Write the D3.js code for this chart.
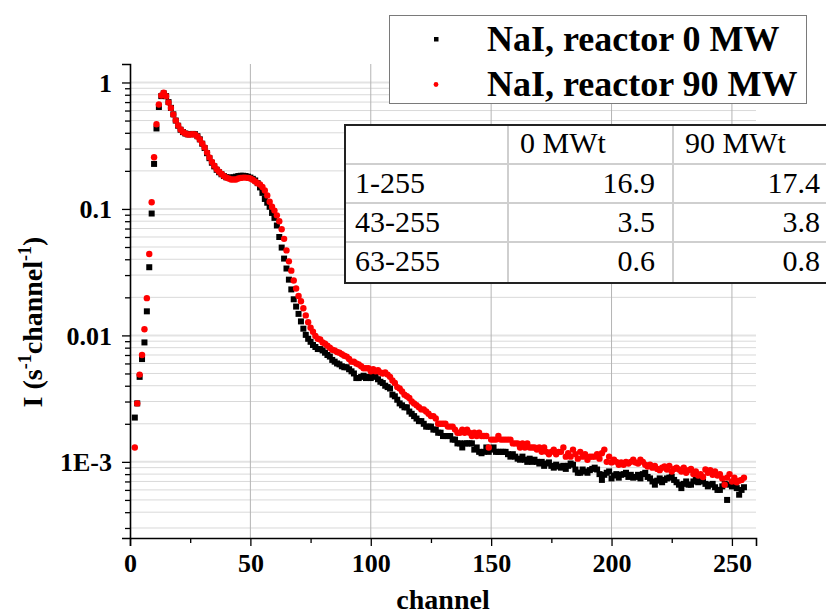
<!DOCTYPE html>
<html><head><meta charset="utf-8">
<script src="https://cdn.jsdelivr.net/npm/d3@7"></script>
<style>body{margin:0;background:#fff} svg{display:block}</style>
</head><body><svg id="c" width="826" height="614"></svg>
<script>
const firstChannel = 2;
// 0 MW series (channels 2..255)
const off = [
0.00224,0.0029,0.0047,0.0065,0.0088,0.0155,0.0346,0.092,0.227,0.433,
0.64,0.78,0.82,0.78,0.70,0.63,0.56,0.50,0.455,0.423,
0.405,0.395,0.389,0.39,0.392,0.39,0.376,0.355,0.328,0.303,
0.276,0.252,0.232,0.217,0.204,0.195,0.188,0.182,0.178,0.177,
0.177,0.178,0.180,0.182,0.183,0.183,0.182,0.180,0.177,0.173,
0.168,0.160,0.148,0.134,0.120,0.112,0.104,0.093,0.085,0.074,
0.060,0.0495,0.0405,0.0338,0.0276,0.0231,0.0193,0.0169,0.0148,0.0129,
0.0113,0.0101,0.0094,0.0089,0.0084,0.0081,0.0078,0.0078,0.0076,0.0073,
0.0070,0.0068,0.0064,0.0062,0.0060,0.0059,0.0057,0.0056,0.0056,0.0054,
0.0052,0.0050,0.0046,0.0046,0.0047,0.0048,0.0046,0.0047,0.0046,0.0048,
0.0047,0.0045,0.0043,0.0042,0.0040,0.0039,0.0038,0.0034,0.0033,0.0031,
0.0029,0.0028,0.0027,0.0027,0.0025,0.0024,0.0023,0.0022,0.0021,0.0021,
0.0020,0.0019,0.0019,0.0019,0.0018,0.0018,0.0017,0.0017,0.0016,0.0016,
0.0016,0.0016,0.0015,0.0015,0.0014,0.0014,0.0013,0.0014,0.0014,0.0014,
0.0014,0.00125,0.0013,0.0012,0.00117,0.0012,0.0013,0.0012,0.00125,0.0013,
0.0012,0.0012,0.0012,0.0012,0.0012,0.00115,0.0011,0.00115,0.0011,0.00106,
0.00104,0.0011,0.00104,0.001,0.00106,0.001,0.00104,0.001,0.00097,0.001,
0.00093,0.00097,0.00099,0.00093,0.0009,0.00095,0.00092,0.0009,0.00093,0.00088,
0.00093,0.00097,0.00095,0.00087,0.00082,0.00082,0.00087,0.00084,0.00082,0.00086,
0.00088,0.0009,0.00087,0.0008,0.00072,0.00079,0.00082,0.00084,0.00074,0.00078,
0.0008,0.00075,0.00079,0.0008,0.00082,0.00076,0.00079,0.00075,0.00076,0.00079,
0.00074,0.0008,0.00082,0.00076,0.00074,0.0007,0.00066,0.00071,0.00074,0.00069,
0.00072,0.00074,0.00075,0.00076,0.00072,0.00069,0.00066,0.00062,0.00067,0.0007,
0.00066,0.00066,0.0007,0.00072,0.00069,0.00071,0.0007,0.00067,0.00064,0.00066,
0.00067,0.00063,0.0006,0.0006,0.00064,0.00067,0.0005,0.00066,0.00064,0.00066,
0.00062,0.00055,0.0006,0.00063];
// 90 MW series (channels 2..255)
const on = [
0.0013,0.0029,0.0049,0.0070,0.0112,0.0197,0.044,0.113,0.256,0.468,
0.67,0.79,0.83,0.78,0.694,0.628,0.558,0.50,0.457,0.425,
0.406,0.395,0.388,0.388,0.39,0.388,0.374,0.354,0.329,0.306,
0.279,0.255,0.235,0.22,0.206,0.197,0.189,0.182,0.177,0.174,
0.171,0.171,0.171,0.174,0.176,0.177,0.177,0.176,0.174,0.170,
0.165,0.160,0.156,0.149,0.140,0.128,0.114,0.104,0.097,0.089,
0.080,0.069,0.058,0.047,0.0385,0.0325,0.0272,0.0235,0.0205,0.0186,
0.0164,0.0144,0.0127,0.0115,0.0107,0.0099,0.0094,0.0093,0.0088,0.0086,
0.0083,0.0080,0.0077,0.0076,0.0074,0.0073,0.0071,0.0069,0.0068,0.0065,
0.0062,0.0062,0.0060,0.0059,0.0057,0.0055,0.0055,0.0055,0.0052,0.0054,
0.0052,0.0053,0.0051,0.0050,0.0051,0.0049,0.0047,0.0044,0.0042,0.0039,
0.0038,0.0036,0.0034,0.0033,0.0032,0.0030,0.0029,0.0028,0.0027,0.0026,
0.0026,0.0025,0.0024,0.0023,0.0023,0.0022,0.0020,0.0020,0.0020,0.0020,
0.0019,0.0019,0.0019,0.0018,0.0017,0.0017,0.0018,0.0017,0.0018,0.0017,
0.0016,0.0017,0.0016,0.0017,0.0016,0.0016,0.0016,0.0013,0.0015,0.0015,
0.0015,0.0016,0.0015,0.0015,0.0015,0.0015,0.0015,0.0014,0.0014,0.0014,
0.0013,0.0014,0.0013,0.0014,0.0013,0.0013,0.0013,0.00125,0.0013,0.0012,
0.0013,0.0012,0.00115,0.0012,0.00125,0.00115,0.0012,0.0012,0.0013,0.0011,
0.00117,0.0011,0.00125,0.00115,0.00106,0.0012,0.0011,0.00115,0.00104,0.0011,
0.0011,0.0011,0.00115,0.00106,0.00117,0.00125,0.001,0.0011,0.00099,0.00104,
0.001,0.00095,0.00099,0.00095,0.001,0.00097,0.001,0.00104,0.00099,0.00097,
0.00104,0.001,0.00095,0.00092,0.00095,0.0009,0.00093,0.00088,0.00086,0.0009,
0.00092,0.00087,0.00093,0.00084,0.00088,0.0009,0.00087,0.00084,0.0009,0.00082,
0.00086,0.00088,0.0008,0.00084,0.00078,0.0008,0.00076,0.00087,0.00082,0.00086,
0.00079,0.00084,0.00078,0.0008,0.00074,0.00066,0.00075,0.0008,0.0007,0.00075,
0.00069,0.00071,0.00072,0.00075];
const xTicks = [0,50,100,150,200,250];
const xMinorTicks = [25,75,125,175,225];
const yTicks = [1,0.1,0.01,0.001];
const yTickLabels = ["1","0.1","0.01","1E-3"];
const legendLabels = ["NaI, reactor 0 MW","NaI, reactor 90 MW"];
const tableHeader = ["","0 MWt","90 MWt"];
const tableRows = [["1-255","16.9","17.4"],["43-255","3.5","3.8"],["63-255","0.6","0.8"]];

const svg = d3.select("#c");
const serif = "'Liberation Serif','Times New Roman',serif";
const x = d3.scaleLinear().domain([0,260]).range([130,756]);
const y = d3.scaleLog().domain([2.5e-4,1.4]).range([538,64]);
const [y0,y1] = y.domain();
const yMinor = [];
for (let k=-4;k<=0;k++) for (let m=2;m<=9;m++){const v=m*Math.pow(10,k); if(v>=y0&&v<=y1) yMinor.push(v);}

// grid
const g = svg.append("g");
g.selectAll(".hm").data(yMinor).join("line")
 .attr("x1",x(0)).attr("x2",x(260)).attr("y1",d=>y(d)).attr("y2",d=>y(d))
 .attr("stroke","#d9d9d9").attr("stroke-width",1);
g.selectAll(".hM").data(yTicks).join("line")
 .attr("x1",x(0)).attr("x2",x(260)).attr("y1",d=>y(d)).attr("y2",d=>y(d))
 .attr("stroke","#e3e3e3").attr("stroke-width",2);
g.selectAll(".v").data(xTicks.slice(1)).join("line")
 .attr("x1",d=>x(d)).attr("x2",d=>x(d)).attr("y1",y(y0)).attr("y2",y(y1))
 .attr("stroke","#b4b4b4").attr("stroke-width",1);

// data
const ch = (i)=>firstChannel+i;
svg.append("g").selectAll("rect").data(off).join("rect")
 .attr("x",(d,i)=>x(ch(i))-3).attr("y",d=>y(d)-3)
 .attr("width",6).attr("height",6).attr("fill","#000");
svg.append("g").selectAll("circle").data(on).join("circle")
 .attr("cx",(d,i)=>x(ch(i))).attr("cy",d=>y(d)).attr("r",3.2).attr("fill","#ff0000");

// axes
const ax = svg.append("g").attr("transform",`translate(0,${y(y0)})`)
 .call(d3.axisBottom(x).tickValues(xTicks).tickSize(8).tickFormat(d3.format("d")));
svg.append("g").attr("transform",`translate(0,${y(y0)})`)
 .call(d3.axisBottom(x).tickValues(xMinorTicks).tickSize(5).tickFormat(""))
 .call(s=>s.select(".domain").remove());
const ay = svg.append("g").attr("transform",`translate(${x(0)},0)`)
 .call(d3.axisLeft(y).tickValues(yTicks).tickSize(8).tickFormat((d,i)=>yTickLabels[i]));
svg.append("g").attr("transform",`translate(${x(0)},0)`)
 .call(d3.axisLeft(y).tickValues(yMinor).tickSize(5).tickFormat(""))
 .call(s=>s.select(".domain").remove());
svg.selectAll(".domain").attr("stroke","#000").attr("stroke-width",1.6);
svg.selectAll(".tick line").attr("stroke","#000").attr("stroke-width",1.3);
ax.selectAll("text").attr("font-family",serif).attr("font-weight","bold").attr("font-size",26)
 .attr("fill","#000").attr("y",null).attr("dy",null).attr("transform","translate(0,34)");
ay.selectAll("text").attr("font-family",serif).attr("font-weight","bold").attr("font-size",26)
 .attr("fill","#000").attr("x",-18).attr("dy",null).attr("y",9);

// axis titles
svg.append("text").attr("x",443).attr("y",609).attr("text-anchor","middle")
 .attr("font-family",serif).attr("font-weight","bold").attr("font-size",28).text("channel");
const yl = svg.append("text").attr("transform","translate(42,322) rotate(-90)").attr("text-anchor","middle")
 .attr("font-family",serif).attr("font-weight","bold").attr("font-size",28);
yl.append("tspan").text("I (s");
yl.append("tspan").attr("font-size",18).attr("dy",-11).text("-1");
yl.append("tspan").attr("dy",11).text("channel");
yl.append("tspan").attr("font-size",18).attr("dy",-11).text("-1");
yl.append("tspan").attr("dy",11).text(")");

// legend
svg.append("rect").attr("x",389.5).attr("y",15.5).attr("width",417).attr("height",88)
 .attr("fill","#fff").attr("stroke","#7a7a7a").attr("stroke-width",1);
svg.append("rect").attr("x",434).attr("y",37).attr("width",4.5).attr("height",4.5).attr("fill","#000");
svg.append("circle").attr("cx",436).attr("cy",84.5).attr("r",2.4).attr("fill","#ff0000");
svg.selectAll(".lg").data(legendLabels).join("text")
 .attr("x",487).attr("y",(d,i)=>51+i*45).attr("font-family",serif).attr("font-weight","bold")
 .attr("font-size",36).attr("fill","#000").text(d=>d);

// table
const tx=[345,508,673,830], ty=[125,164,203,242,283];
const tg = svg.append("g");
tg.append("rect").attr("x",tx[0]).attr("y",ty[0]).attr("width",tx[3]-tx[0]).attr("height",ty[4]-ty[0]).attr("fill","#fff");
[1,2,3].forEach(r=>tg.append("line").attr("x1",tx[0]).attr("x2",tx[3]).attr("y1",ty[r]).attr("y2",ty[r]).attr("stroke","#cfcfcf").attr("stroke-width",2));
[1,2].forEach(c=>tg.append("line").attr("x1",tx[c]).attr("x2",tx[c]).attr("y1",ty[0]).attr("y2",ty[4]).attr("stroke","#cfcfcf").attr("stroke-width",2));
tg.append("path").attr("d",`M${tx[3]},${ty[0]}H${tx[0]}V${ty[4]}H${tx[3]}`).attr("fill","none").attr("stroke","#222").attr("stroke-width",2);
tableHeader.forEach((t,c)=>{ if(t) tg.append("text").attr("x",tx[c]+12).attr("y",153).attr("font-family",serif).attr("font-size",30).text(t);});
tableRows.forEach((row,r)=>{
  const by = 193+r*39;
  tg.append("text").attr("x",355).attr("y",by).attr("font-family",serif).attr("font-size",30).text(row[0]);
  tg.append("text").attr("x",655).attr("y",by).attr("text-anchor","end").attr("font-family",serif).attr("font-size",30).text(row[1]);
  tg.append("text").attr("x",820).attr("y",by).attr("text-anchor","end").attr("font-family",serif).attr("font-size",30).text(row[2]);
});
</script></body></html>
